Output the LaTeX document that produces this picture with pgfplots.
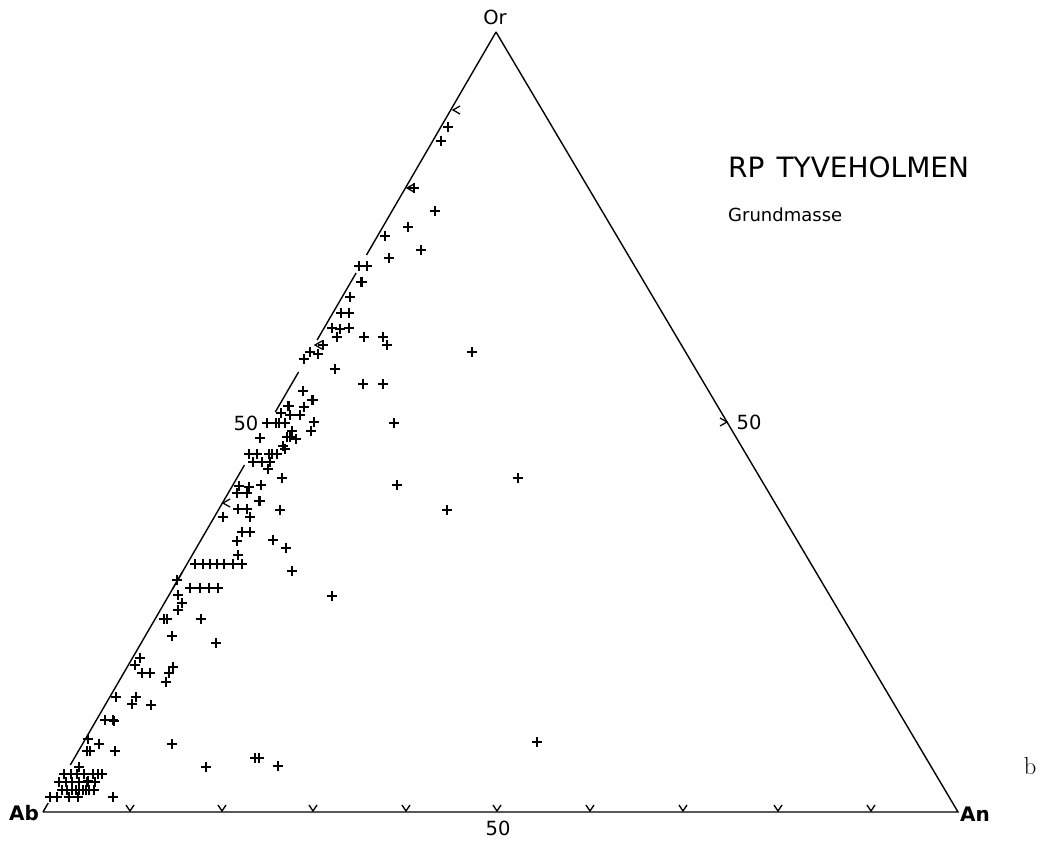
\documentclass[border=0pt]{standalone}
\usepackage{fontspec}
\usepackage{pgfplots}
\usepackage{pgfplotstable}
\pgfplotsset{compat=1.18}
\newfontfamily\lett{DejaVu Sans}

% measured points (pixel coordinates of the plate, y down)
\pgfplotstableread{
x y
448 127
441 141
414 188
435 211
408 227
385 236
421 250
389 258
359 266
367 266
361 282
362 282
350 297
341 313
349 313
332 328
340 329
349 328
337 337
364 337
383 337
387 345
323 345
310 352
318 354
304 359
335 369
472 352
363 384
383 384
303 391
312 400
313 400
288 406
289 406
304 407
281 413
290 415
300 415
267 423
276 423
279 423
285 423
314 422
394 423
292 431
311 431
260 438
287 437
290 437
296 439
283 446
285 449
249 454
257 454
269 454
272 454
277 454
253 462
262 462
270 462
268 469
282 478
518 478
397 485
239 486
249 487
261 485
237 493
247 493
259 501
260 501
238 509
247 509
280 510
447 510
223 517
250 517
242 532
250 532
237 541
273 540
286 548
238 555
195 564
203 564
210 564
217 564
224 564
233 564
242 564
292 571
177 580
190 588
200 588
209 588
218 588
332 596
178 595
182 603
178 610
164 619
167 619
201 619
172 636
216 643
140 658
135 665
142 673
150 673
173 667
169 673
166 682
116 697
136 697
151 705
132 704
105 720
113 720
114 721
88 739
99 744
172 744
87 751
90 751
115 751
79 767
64 774
71 774
77 774
84 774
93 774
98 774
102 774
59 782
66 782
72 782
79 782
87 782
88 781
95 782
62 790
67 790
72 790
76 790
79 790
83 790
86 790
89 790
94 790
50 797
57 797
69 797
78 797
113 797
206 767
255 758
259 758
278 766
537 742
}\points

\begin{document}
\begin{tikzpicture}
\begin{axis}[width=1051pt,height=843pt,scale only axis,
  xmin=0,xmax=1051,ymin=0,ymax=843,y dir=reverse,
  hide axis,clip=false]
\path (axis cs:0,0) rectangle (axis cs:1051,843);

% triangle, the Ab--Or side broken where the points crowd it
\draw[line width=1.4pt] (axis cs:43,812) -- (axis cs:958,812) -- (axis cs:496,32);
\draw[line width=1.4pt] (axis cs:43,812) -- (axis cs:48.2,803);
\draw[line width=1.4pt] (axis cs:70.3,765) -- (axis cs:182.4,572);
\draw[line width=1.4pt] (axis cs:172.5,589) -- (axis cs:244.5,465);
\draw[line width=1.4pt] (axis cs:275.3,412) -- (axis cs:298.6,372);
\draw[line width=1.4pt] (axis cs:317.1,340) -- (axis cs:356.1,273);
\draw[line width=1.4pt] (axis cs:366.5,255) -- (axis cs:496,32);

% ticks on the Ab--An side
\draw[line width=1.3pt] (axis cs:126,805) -- (axis cs:130,811) -- (axis cs:134,805);
\draw[line width=1.3pt] (axis cs:218,805) -- (axis cs:222,811) -- (axis cs:226,805);
\draw[line width=1.3pt] (axis cs:309,805) -- (axis cs:313,811) -- (axis cs:317,805);
\draw[line width=1.3pt] (axis cs:402,805) -- (axis cs:406,811) -- (axis cs:410,805);
\draw[line width=1.3pt] (axis cs:493,805) -- (axis cs:497,811) -- (axis cs:501,805);
\draw[line width=1.3pt] (axis cs:586,805) -- (axis cs:590,811) -- (axis cs:594,805);
\draw[line width=1.3pt] (axis cs:679,805) -- (axis cs:683,811) -- (axis cs:687,805);
\draw[line width=1.3pt] (axis cs:774,805) -- (axis cs:778,811) -- (axis cs:782,805);
\draw[line width=1.3pt] (axis cs:867,805) -- (axis cs:871,811) -- (axis cs:875,805);
% ticks on the Ab--Or side
\draw[line width=1.3pt] (axis cs:460,106) -- (axis cs:453,110) -- (axis cs:460,114);
\draw[line width=1.3pt] (axis cs:414,184) -- (axis cs:407,188) -- (axis cs:414,192);
\draw[line width=1.3pt] (axis cs:322,341) -- (axis cs:315,345) -- (axis cs:322,349);
\draw[line width=1.3pt] (axis cs:230,499) -- (axis cs:223,503) -- (axis cs:230,507);
% tick on the Or--An side
\draw[line width=1.3pt] (axis cs:720,418) -- (axis cs:727,422) -- (axis cs:720,426);

\addplot[only marks, mark=+, mark size=5pt, mark options={line width=1.4pt}]
  table[x=x,y=y] {\points};

% lettering
\node[font=\lett\fontsize{19.5}{19.5}\selectfont] at (axis cs:495,17) {Or};
\node[font=\lett\bfseries\fontsize{20}{20}\selectfont] at (axis cs:24,813) {Ab};
\node[font=\lett\bfseries\fontsize{20}{20}\selectfont] at (axis cs:975,814) {An};
\node[font=\lett\fontsize{19.5}{19.5}\selectfont] at (axis cs:246,423) {50};
\node[font=\lett\fontsize{19.5}{19.5}\selectfont] at (axis cs:749,422) {50};
\node[font=\lett\fontsize{19.5}{19.5}\selectfont] at (axis cs:498,828) {50};
\node[font=\lett\fontsize{28}{28}\selectfont, anchor=west, inner sep=0pt] at (axis cs:728,167) {RP\hspace{12pt}TYVEHOLMEN};
\node[font=\lett\fontsize{18}{18}\selectfont, anchor=west, inner sep=0pt] at (axis cs:728,215) {Grundmasse};
\node[font=\fontsize{24.5}{24.5}\selectfont] at (axis cs:1030,766) {b};
\end{axis}
\end{tikzpicture}
\end{document}
